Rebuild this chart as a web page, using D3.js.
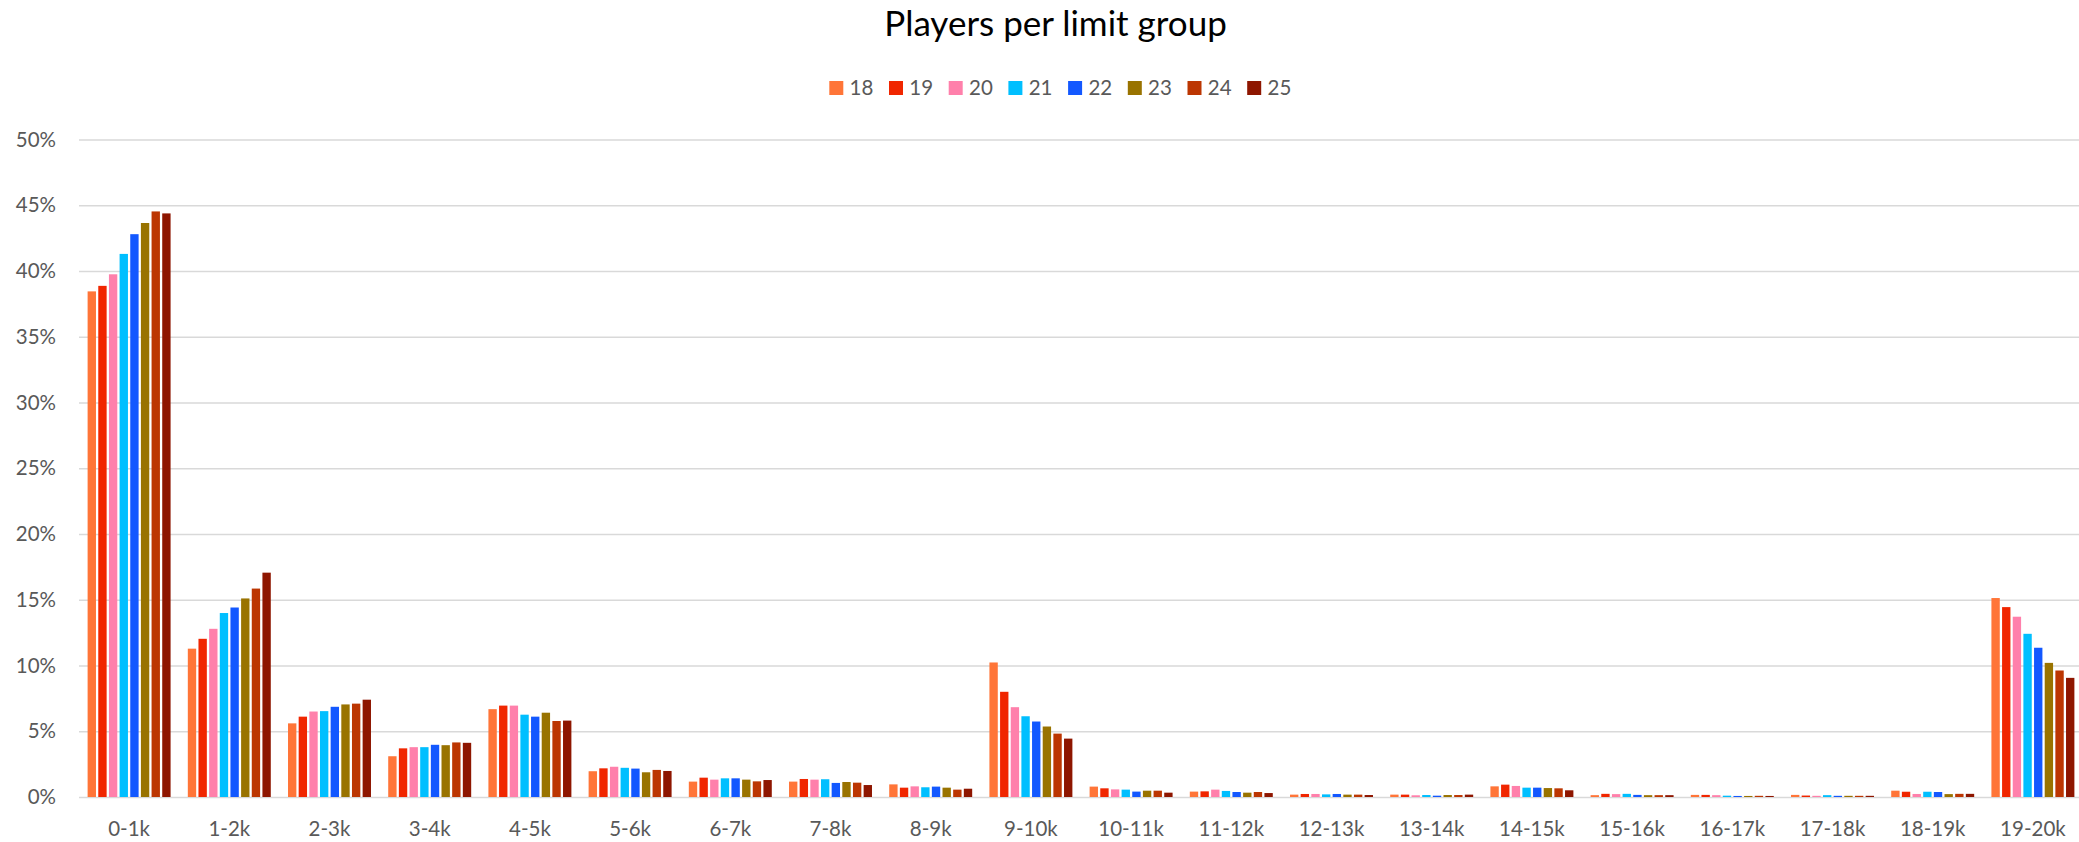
<!DOCTYPE html>
<html>
<head>
<meta charset="utf-8">
<script src="https://cdn.jsdelivr.net/npm/d3@7"></script>
<style>
  html, body { margin: 0; padding: 0; background: #ffffff; }
  svg { display: block; }
</style>
</head>
<body>
<div id="chart"></div>
<script>
// ---- data ----
const categories = ["0-1k","1-2k","2-3k","3-4k","4-5k","5-6k","6-7k","7-8k","8-9k","9-10k",
  "10-11k","11-12k","12-13k","13-14k","14-15k","15-16k","16-17k","17-18k","18-19k","19-20k"];
const seriesNames = ["18","19","20","21","22","23","24","25"];
const yTicks = [0,5,10,15,20,25,30,35,40,45,50];

const s18 = [38.45, 11.28, 5.60, 3.10, 6.68, 1.96, 1.17, 1.17, 0.96, 10.23, 0.79, 0.41, 0.18, 0.18, 0.81, 0.14, 0.16, 0.16, 0.48, 15.13];
const s19 = [38.87, 12.03, 6.11, 3.70, 6.95, 2.18, 1.47, 1.37, 0.71, 8.00, 0.66, 0.43, 0.23, 0.18, 0.94, 0.24, 0.16, 0.11, 0.40, 14.44];
const s20 = [39.75, 12.79, 6.50, 3.79, 6.95, 2.30, 1.32, 1.32, 0.81, 6.83, 0.58, 0.56, 0.23, 0.13, 0.84, 0.22, 0.14, 0.09, 0.23, 13.71];
const s21 = [41.30, 13.99, 6.53, 3.79, 6.26, 2.22, 1.42, 1.35, 0.74, 6.14, 0.56, 0.46, 0.20, 0.15, 0.71, 0.24, 0.10, 0.14, 0.40, 12.41];
const s22 = [42.80, 14.41, 6.86, 3.97, 6.11, 2.16, 1.42, 1.07, 0.79, 5.74, 0.41, 0.38, 0.23, 0.10, 0.71, 0.16, 0.08, 0.09, 0.38, 11.35];
const s23 = [43.65, 15.10, 7.04, 3.94, 6.41, 1.88, 1.32, 1.14, 0.71, 5.36, 0.48, 0.33, 0.18, 0.15, 0.68, 0.14, 0.08, 0.09, 0.22, 10.20];
const s24 = [44.53, 15.85, 7.10, 4.15, 5.78, 2.06, 1.19, 1.09, 0.56, 4.82, 0.48, 0.38, 0.18, 0.15, 0.66, 0.14, 0.09, 0.09, 0.24, 9.62];
const s25 = [44.38, 17.06, 7.40, 4.12, 5.81, 1.98, 1.29, 0.91, 0.63, 4.44, 0.33, 0.30, 0.15, 0.18, 0.51, 0.14, 0.08, 0.09, 0.24, 9.06];
const seriesValues = [s18, s19, s20, s21, s22, s23, s24, s25];

const colors = ["#FF7538","#F02600","#FF80AB","#00BFFF","#1358FF","#997300","#BC3602","#8E1600"];

// ---- layout ----
const W = 2079, H = 842;
const font = "Lato, 'Open Sans', sans-serif";
const plotLeft = 79, plotRight = 2083, yZero = 797, yTop = 139.5;

const svg = d3.select("#chart").append("svg")
  .attr("width", W).attr("height", H)
  .style("background", "#ffffff");

const x0 = d3.scaleBand().domain(categories).range([plotLeft, plotRight])
  .paddingInner(0.149).paddingOuter(0.0745);
const x1 = d3.scaleBand().domain(seriesNames).range([0, x0.bandwidth()]).padding(0);
const y = d3.scaleLinear().domain([0, 50]).range([yZero, yTop]);

// grid + y axis
const yAxis = svg.append("g")
  .attr("transform", `translate(${plotLeft},0)`)
  .call(d3.axisLeft(y).tickValues(yTicks).tickFormat(d => d + "%")
    .tickSize(-(W - plotLeft)).tickPadding(23));
yAxis.select(".domain").remove();
yAxis.selectAll(".tick line").attr("stroke", "#D9D9D9").attr("stroke-width", 1.6);
yAxis.selectAll(".tick text")
  .attr("fill", "#595959").style("font-family", font).style("font-size", "20.5px");

// x axis labels
const xAxis = svg.append("g")
  .attr("transform", `translate(0,${yZero})`)
  .call(d3.axisBottom(x0).tickSize(0).tickPadding(24.5));
xAxis.select(".domain").remove();
xAxis.selectAll(".tick text")
  .attr("fill", "#595959").style("font-family", font).style("font-size", "20.5px");

// bars
const inset = 1.15;
const groups = svg.append("g").selectAll("g")
  .data(categories)
  .join("g")
  .attr("transform", d => `translate(${x0(d)},0)`);

groups.selectAll("rect")
  .data((c, ci) => seriesNames.map((s, si) => ({ s, si, v: seriesValues[si][ci] })))
  .join("rect")
  .attr("x", d => x1(d.s) + inset)
  .attr("width", x1.bandwidth() - 2 * inset)
  .attr("y", d => y(d.v))
  .attr("height", d => yZero - y(d.v))
  .attr("fill", d => colors[d.si]);

// title
svg.append("text")
  .attr("x", 1055.5).attr("y", 36)
  .attr("text-anchor", "middle")
  .style("font-family", font).style("font-size", "35px")
  .attr("fill", "#000000")
  .text("Players per limit group");

// legend
const legend = svg.append("g").selectAll("g")
  .data(seriesNames)
  .join("g")
  .attr("transform", (d, i) => `translate(${829.3 + i * 59.7},0)`);
legend.append("rect")
  .attr("x", 0).attr("y", 81).attr("width", 14).attr("height", 14)
  .attr("fill", (d, i) => colors[i]);
legend.append("text")
  .attr("x", 20.3).attr("y", 95)
  .style("font-family", font).style("font-size", "20.5px")
  .attr("fill", "#595959")
  .text(d => d);
</script>
</body>
</html>
